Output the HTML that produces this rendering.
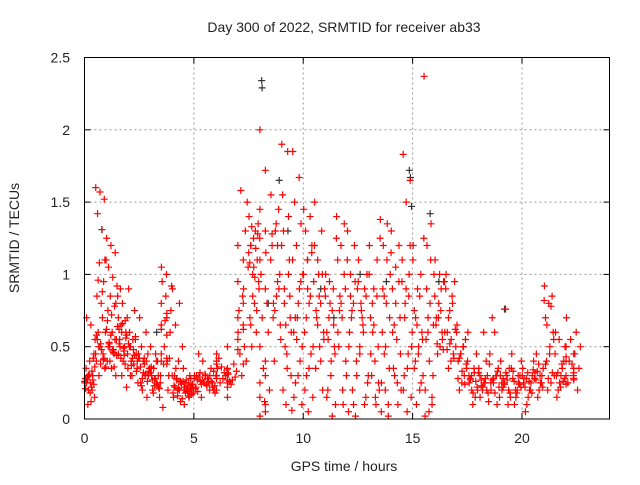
<!DOCTYPE html>
<html><head><meta charset="utf-8"><style>
body{margin:0;background:#fff;}
svg text{font-family:"Liberation Sans",sans-serif;fill:#222;}
</style></head><body>
<svg id="chart" width="640" height="480" xmlns="http://www.w3.org/2000/svg">
<rect width="640" height="480" fill="#fff"/>
<text x="344" y="32" font-size="14" text-anchor="middle">Day 300 of 2022, SRMTID for receiver ab33</text>
<text x="344" y="471" font-size="14" text-anchor="middle">GPS time / hours</text>
<text transform="translate(19,238) rotate(-90)" font-size="14" text-anchor="middle">SRMTID / TECUs</text>
<g id="grid"></g><g id="ticks"></g><g id="marks"></g>
<rect x="84.5" y="57.5" width="525" height="361.5" fill="none" stroke="#000" stroke-width="1"/>
</svg>
<script>
const xTicks=[0,5,10,15,20];
const yTicks=[0,0.5,1,1.5,2,2.5];
const yTickLabels=["0","0.5","1","1.5","2","2.5"];
const binStarts=[0,0.5,1,1.5,2,2.5,3,3.5,4,4.5,5,6,7,7.5,8,8.5,9,9.5,10,10.5,11,11.5,12,12.5,13,13.5,14,14.5,15,15.5,16,16.5,17,17.5,18,18.5,19,19.5,20,20.5,21,21.5,22];
const binWidths=[0.5,0.5,0.5,0.5,0.5,0.5,0.5,0.5,0.5,0.5,1,1,0.5,0.5,0.5,0.5,0.5,0.5,0.5,0.5,0.5,0.5,0.5,0.5,0.5,0.5,0.5,0.5,0.5,0.5,0.5,0.5,0.5,0.5,0.5,0.5,0.5,0.5,0.5,0.5,0.5,0.5,0.7];
const redValues=[
[0.25,0.3,0.42,0.7,0.65,0.55,0.2,0.3,0.35,0.25,0.15,0.1,0.2,0.28,0.4,0.45,0.27,0.22],
[1.6,1.57,1.52,1.42,1.31,1.1,1.08,0.95,0.85,0.8,0.6,0.5,0.45,0.4,0.38,0.35,0.6,0.7],
[1.25,1.2,1.15,1.05,0.98,0.92,0.85,0.78,0.75,0.6,0.55,0.5,0.45,0.4,0.35,0.3,0.52,0.48],
[0.85,0.8,0.7,0.65,0.6,0.55,0.5,0.45,0.4,0.35,0.3,0.22,0.9,0.68,0.62,0.47],
[0.9,0.75,0.6,0.55,0.5,0.45,0.4,0.35,0.3,0.25,0.55,0.42,0.38],
[0.7,0.6,0.5,0.45,0.4,0.35,0.3,0.25,0.15,0.2,0.33,0.42],
[0.5,0.4,0.35,0.3,0.25,0.2,0.15,0.45,0.3,0.22,0.28],
[1.05,1.0,0.92,0.85,0.75,0.68,0.6,0.5,0.42,0.38,0.3,0.08,0.2,0.95,0.4],
[0.9,0.8,0.65,0.5,0.4,0.3,0.25,0.2,0.15,0.12,0.28],
[0.35,0.3,0.25,0.22,0.2,0.18,0.15,0.1,0.28,0.2,0.24,0.19],
[0.3,0.25,0.2,0.15,0.35,0.45,0.28,0.22,0.3,0.18,0.4,0.25,0.32,0.2,0.27,0.23],
[0.45,0.35,0.3,0.25,0.2,0.15,0.4,0.32,0.28,0.5,0.38,0.22,0.3,0.27],
[0.6,0.5,0.45,0.4,0.3,1.05,0.9,0.75,1.3,1.58,1.5,0.85],
[1.4,1.3,1.2,1.1,1.0,0.9,0.8,0.7,0.6,0.5,1.35,1.25],
[2.0,1.72,1.45,1.3,1.1,0.9,0.5,0.3,0.15,0.05,0.02,0.1,0.25,0.4],
[1.55,1.45,1.3,1.2,1.0,0.85,0.7,0.55,1.2,0.4],
[1.9,1.85,1.55,1.4,1.3,1.1,0.9,0.7,0.5,0.3,0.1,0.06,0.45],
[1.85,1.67,1.5,1.35,1.2,1.0,0.8,0.6,0.4,0.25,0.1,0.7],
[1.45,1.4,1.3,1.2,1.1,0.95,0.8,0.6,0.45,0.3,0.15,0.05],
[1.5,1.3,1.1,0.9,0.8,0.7,0.6,0.5,0.35,0.2,1.0],
[1.0,0.9,0.8,0.6,0.5,0.4,0.2,0.1,0.02,0.7],
[1.4,1.35,1.2,1.1,0.9,0.7,0.5,0.3,0.1,0.85],
[1.3,1.2,1.0,0.9,0.8,0.6,0.4,0.2,0.05,0.02,0.7],
[1.1,1.0,0.9,0.7,0.5,0.3,0.15,0.6,0.8],
[1.2,1.1,0.9,0.7,0.5,0.4,0.3,0.2,0.1,0.6],
[1.38,1.35,1.2,1.0,0.8,0.6,0.35,0.2,0.05,0.02,0.45],
[1.3,1.2,1.05,0.9,0.7,0.55,0.35,0.2,0.1,0.3],
[1.1,1.0,0.8,0.6,0.45,0.3,0.15,0.05,1.83,1.65,1.5],
[1.2,1.0,0.9,0.75,0.6,0.5,0.4,0.3,0.2,0.1],
[2.37,1.35,1.2,1.0,0.8,0.55,0.3,0.05,0.02,0.15,0.7],
[1.1,0.95,0.9,0.8,0.7,0.6,0.55,0.5,0.45],
[1.0,0.95,0.85,0.75,0.6,0.5,0.45,0.4,0.35],
[0.65,0.55,0.5,0.45,0.4,0.35,0.3,0.25,0.2],
[0.6,0.45,0.35,0.3,0.25,0.2,0.15,0.1,0.28],
[0.35,0.3,0.25,0.2,0.15,0.12,0.4,0.6,0.27],
[0.45,0.35,0.3,0.25,0.2,0.15,0.1,0.6,0.7],
[0.4,0.35,0.3,0.25,0.2,0.15,0.1,0.76,0.28],
[0.45,0.4,0.3,0.25,0.2,0.15,0.1,0.33],
[0.35,0.3,0.25,0.2,0.15,0.1,0.05,0.28],
[0.4,0.35,0.3,0.25,0.2,0.15,0.45,0.32],
[0.92,0.85,0.8,0.7,0.6,0.5,0.4,0.3,0.25,0.2],
[0.6,0.5,0.4,0.35,0.3,0.25,0.2,0.15],
[0.7,0.6,0.55,0.5,0.45,0.4,0.35,0.3,0.25,0.2,0.38]
];
const redValuesB=[
[0.26,0.31,0.24,0.29,0.33,0.21,0.18,0.36,0.3,0.27,0.25,0.12],
[0.45,0.5,0.42,0.55,0.48,0.36,0.3,0.41,0.58,0.52,1.1,0.96,0.88],
[0.62,0.58,0.55,0.5,0.47,0.44,0.4,0.36,0.68,0.72,0.8,0.53,0.46],
[0.64,0.6,0.56,0.52,0.49,0.45,0.42,0.38,0.7,0.66,0.58,0.5,0.44],
[0.52,0.48,0.45,0.42,0.4,0.37,0.33,0.3,0.57,0.5,0.44],
[0.42,0.38,0.35,0.32,0.3,0.28,0.26,0.23,0.4,0.36,0.31],
[0.32,0.28,0.25,0.23,0.21,0.18,0.3,0.27,0.24,0.36,0.4],
[0.45,0.42,0.4,0.38,0.62,0.7,0.65,0.58,0.8,0.73],
[0.3,0.27,0.24,0.22,0.2,0.18,0.16,0.14,0.35,0.26,0.23,0.21],
[0.26,0.23,0.21,0.2,0.19,0.17,0.22,0.25,0.24,0.18,0.16,0.21,0.27,0.2],
[0.28,0.26,0.24,0.22,0.3,0.27,0.25,0.23,0.29,0.31,0.26,0.21,0.24,0.28,0.33,0.19,0.25,0.3],
[0.3,0.28,0.26,0.33,0.36,0.31,0.29,0.25,0.34,0.38,0.42,0.3,0.27,0.35,0.32,0.24],
[0.55,0.65,0.7,0.8,0.95,1.1,1.2,0.62,0.48,0.38],
[1.15,1.05,0.95,0.85,1.28,1.33,0.75,0.65,1.18,1.08,0.98],
[1.25,1.15,1.0,0.8,0.7,0.6,0.35,0.2,0.12],
[1.1,0.95,0.8,0.65,1.35,1.28,0.9,0.75],
[1.2,1.0,0.8,0.6,0.35,0.2,0.85,0.65],
[1.1,0.9,0.7,0.5,0.3,0.15,0.95,0.55],
[1.0,0.85,0.7,0.5,0.35,0.2,1.15,0.9],
[1.2,1.0,0.85,0.75,0.55,0.4,0.65],
[0.85,0.75,0.55,0.45,0.3,0.15,0.65,0.95],
[1.25,1.0,0.8,0.6,0.4,0.2,0.75],
[1.1,0.95,0.75,0.5,0.3,0.1,0.85],
[0.95,0.85,0.65,0.45,0.25,0.1,0.75],
[1.0,0.85,0.65,0.45,0.25,0.15,0.8],
[1.25,1.1,0.9,0.7,0.5,0.25,0.1,0.85],
[1.15,0.95,0.8,0.6,0.45,0.25,0.65],
[0.95,0.85,0.7,0.5,0.35,0.2,1.2,0.9],
[1.1,0.85,0.7,0.55,0.45,0.35,0.25,0.65],
[1.25,1.1,0.9,0.65,0.4,0.2,0.1,0.6],
[0.85,0.75,0.65,0.6,0.52,0.48,0.7,0.95,1.0],
[0.9,0.8,0.7,0.62,0.55,0.48,0.42,0.52],
[0.6,0.5,0.42,0.38,0.33,0.28,0.24,0.45],
[0.4,0.32,0.27,0.22,0.18,0.3,0.26,0.2],
[0.32,0.28,0.23,0.18,0.25,0.3,0.2,0.22],
[0.38,0.3,0.27,0.22,0.18,0.25,0.33,0.28],
[0.3,0.27,0.22,0.18,0.32,0.25,0.2,0.24],
[0.35,0.3,0.26,0.22,0.18,0.28,0.24,0.2],
[0.3,0.26,0.22,0.18,0.32,0.25,0.2,0.28],
[0.34,0.3,0.27,0.22,0.38,0.28,0.25,0.33],
[0.82,0.78,0.65,0.55,0.45,0.38,0.32,0.28],
[0.45,0.38,0.32,0.28,0.22,0.3,0.26,0.55],
[0.5,0.45,0.4,0.35,0.3,0.27,0.24,0.32,0.43,0.28]
];
const blackHours=[0.8,3.3,7.6,8.1,8.12,8.4,8.9,9.3,10.2,10.8,11.4,12.6,13.8,14.85,14.9,14.95,15.8,16.2,19.2];
const blackValues=[1.31,0.6,1.2,2.34,2.29,0.8,1.65,1.3,1.1,0.9,0.7,1.0,0.95,1.72,1.67,1.47,1.42,0.95,0.76];

const NS='http://www.w3.org/2000/svg';
const X0=84.5,X1=609.5,Y0=419,Y1=57.5;
function xs(h){return X0+h/24*(X1-X0);}
function ys(v){return Y0-v/2.5*(Y0-Y1);}
const grid=document.getElementById('grid'),ticks=document.getElementById('ticks'),marks=document.getElementById('marks');
function mk(tag,attrs,parent){const e=document.createElementNS(NS,tag);for(const k in attrs)e.setAttribute(k,attrs[k]);parent.appendChild(e);return e;}
xTicks.forEach(t=>{
  const x=xs(t);
  if(t>0){const g=mk('line',{x1:x,x2:x,y1:Y1,y2:Y0,stroke:'#999','stroke-dasharray':'2,3'},grid);
  
  }
  mk('line',{x1:x,x2:x,y1:Y0,y2:Y0-6,stroke:'#000'},ticks);
  mk('line',{x1:x,x2:x,y1:Y1,y2:Y1+6,stroke:'#000'},ticks);
  const l=mk('text',{x:x,y:443,'font-size':14,'text-anchor':'middle'},ticks);l.textContent=t;
  
  
});
yTicks.forEach((t,i)=>{
  const y=ys(t);
  if(t>0&&t<2.5){const g=mk('line',{x1:X0,x2:X1,y1:y,y2:y,stroke:'#999','stroke-dasharray':'2,3'},grid);
  
  }
  mk('line',{x1:X0,x2:X0+6,y1:y,y2:y,stroke:'#000'},ticks);
  mk('line',{x1:X1,x2:X1-6,y1:y,y2:y,stroke:'#000'},ticks);
  const l=mk('text',{x:70,y:y+5,'font-size':14,'text-anchor':'end'},ticks);l.textContent=yTickLabels[i];
  
  
});
function cross(h,v,color,name){
  const x=xs(h),y=ys(v);
  const p=mk('path',{d:`M${x-3.5} ${y}H${x+3.5}M${x} ${y-3.5}V${y+3.5}`,stroke:color,'stroke-width':1.2,fill:'none'},marks);
  
  
}
blackHours.forEach((h,i)=>cross(h,blackValues[i],'#333','black-point'));
function drawBins(set,step,offset){
  binStarts.forEach((b,bi)=>{
    const vals=set[bi],n=vals.length;
    vals.forEach((v,i)=>{
      const slot=(i*step)%n;
      const h=b+(slot+offset)/n*binWidths[bi];
      cross(h,v,'#f00','red-point');
    });
  });
}
drawBins(redValues,7,0.5);
drawBins(redValuesB,5,0.2);
</script>
</body></html>
